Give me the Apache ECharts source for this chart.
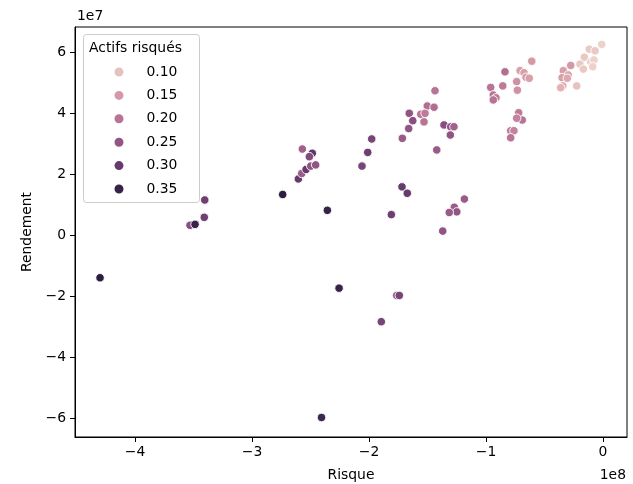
<!DOCTYPE html>
<html>
<head>
<meta charset="utf-8">
<script src="https://cdn.jsdelivr.net/npm/echarts@6/dist/echarts.min.js"></script>
<style>
  html, body { margin: 0; padding: 0; background: #fff; }
  #chart { width: 633px; height: 484px; }
</style>
</head>
<body>
<div id="chart"></div>
<script>
// Portfolio risk (x) versus return (y), coloured by the share of risky assets.
const risque = [
  -1.1e6, -11.7e6, -6.8e6, -16.0e6, -19.7e6, -10.5e6, -7.7e6, -16.8e6, -8.8e6, -22.5e6,
  -27.6e6, -33.9e6, -29.7e6, -35.0e6, -30.5e6, -34.4e6, -36.2e6,
  -60.9e6, -70.9e6, -67.5e6, -65.8e6, -63.0e6, -73.8e6, -73.2e6, -83.8e6, -85.7e6, -96.0e6, -93.8e6, -91.5e6, -93.8e6,
  -72.1e6, -69.0e6, -73.8e6, -78.9e6, -76.1e6, -78.9e6,
  -143.6e6, -150.2e6, -144.4e6, -155.8e6, -152.1e6, -153.0e6, -165.6e6, -162.6e6, -166.1e6, -171.5e6,
  -135.9e6, -130.2e6, -127.4e6, -130.5e6, -142.1e6,
  -197.7e6, -201.1e6, -206.0e6, -171.8e6, -167.3e6, -180.9e6,
  -118.5e6, -127.1e6, -125.0e6, -131.4e6, -137.0e6,
  -235.6e6, -225.6e6, -176.3e6, -174.1e6, -189.5e6, -240.6e6,
  -353.0e6, -348.7e6, -340.8e6, -340.4e6, -273.8e6,
  -260.4e6, -257.5e6, -253.8e6, -249.8e6, -245.6e6, -257.0e6, -248.5e6, -251.0e6,
  -429.9e6
];
const rendement = [
  62.5e6, 60.9e6, 60.4e6, 58.3e6, 56.0e6, 56.8e6, 57.4e6, 54.4e6, 55.2e6, 48.9e6,
  55.6e6, 53.9e6, 52.5e6, 51.6e6, 51.4e6, 48.9e6, 48.3e6,
  57.0e6, 53.9e6, 53.2e6, 51.7e6, 51.4e6, 50.3e6, 47.5e6, 53.5e6, 48.9e6, 48.4e6, 45.9e6, 45.0e6, 44.3e6,
  40.1e6, 37.7e6, 38.3e6, 34.2e6, 34.2e6, 31.9e6,
  47.3e6, 42.3e6, 41.9e6, 39.6e6, 39.9e6, 37.1e6, 39.9e6, 37.5e6, 34.9e6, 31.7e6,
  36.1e6, 35.5e6, 35.5e6, 32.8e6, 27.9e6,
  31.5e6, 27.1e6, 22.6e6, 15.8e6, 13.7e6, 6.7e6,
  11.8e6, 9.1e6, 7.6e6, 7.4e6, 1.3e6,
  8.1e6, -17.4e6, -19.8e6, -19.8e6, -28.4e6, -59.8e6,
  3.2e6, 3.5e6, 5.8e6, 11.5e6, 13.3e6,
  18.4e6, 20.2e6, 21.5e6, 22.6e6, 23.0e6, 28.2e6, 26.8e6, 25.7e6,
  -14.0e6
];
const actifs = [
  0.08, 0.09, 0.09, 0.09, 0.09, 0.08, 0.08, 0.09, 0.08, 0.10,
  0.15, 0.14, 0.13, 0.14, 0.13, 0.13, 0.12,
  0.15, 0.14, 0.14, 0.15, 0.14, 0.16, 0.16, 0.21, 0.19, 0.20, 0.20, 0.19, 0.20,
  0.19, 0.20, 0.18, 0.19, 0.18, 0.20,
  0.20, 0.21, 0.21, 0.20, 0.19, 0.20, 0.25, 0.26, 0.25, 0.24,
  0.26, 0.25, 0.23, 0.25, 0.24,
  0.28, 0.29, 0.28, 0.30, 0.30, 0.29,
  0.24, 0.24, 0.25, 0.24, 0.25,
  0.35, 0.35, 0.25, 0.28, 0.28, 0.34,
  0.26, 0.35, 0.29, 0.29, 0.36,
  0.30, 0.24, 0.30, 0.25, 0.25, 0.23, 0.31, 0.27,
  0.36
];
const legendValues = [0.10, 0.15, 0.20, 0.25, 0.30, 0.35];
const xTicks = [-4e8, -3e8, -2e8, -1e8, 0];
const yTicks = [-6e7, -4e7, -2e7, 0, 2e7, 4e7, 6e7];

const FONT = 'DejaVu Sans';
const FS = 13.9;

// Sequential cubehelix ramp (light pink -> dark purple)
function cubehelix(x) {
  const gamma = 1, start = 0, rot = 0.4, hue = 0.8;
  const xg = Math.pow(x, gamma);
  const a = hue * xg * (1 - xg) / 2;
  const phi = 2 * Math.PI * (start / 3 + rot * x);
  const c = Math.cos(phi), s = Math.sin(phi);
  const clip = v => Math.round(255 * Math.min(1, Math.max(0, v)));
  const r = xg + a * (-0.14861 * c + 1.78277 * s);
  const g = xg + a * (-0.29227 * c - 0.90649 * s);
  const b = xg + a * (1.97294 * c);
  return 'rgb(' + clip(r) + ',' + clip(g) + ',' + clip(b) + ')';
}
const hueMin = Math.min(...actifs);
const hueMax = Math.max(...actifs);
const hueColor = v => cubehelix(0.85 - 0.7 * (v - hueMin) / (hueMax - hueMin));
const rampStops = [];
for (let i = 0; i <= 40; i++) rampStops.push(cubehelix(0.85 - 0.7 * i / 40));

const minus = n => (n < 0 ? '\u2212' + (-n) : String(n));
const points = risque.map((x, i) => [x, rendement[i], actifs[i]]);

const legendSeries = legendValues.map(v => ({
  type: 'scatter',
  name: v.toFixed(2),
  data: [],
  itemStyle: { color: hueColor(v), borderColor: '#fff', borderWidth: 0.6, opacity: 1 }
}));

const chart = echarts.init(document.getElementById('chart'), null, { renderer: 'canvas' });
chart.setOption({
  animation: false,
  backgroundColor: '#fff',
  textStyle: { fontFamily: FONT },
  grid: { left: 75, top: 27, right: 6, bottom: 47, outerBoundsMode: 'none', containLabel: false,
    show: true, borderColor: '#000', borderWidth: 1, backgroundColor: 'transparent' },
  xAxis: {
    type: 'value',
    min: -4.513e8, max: 0.205e8,
    splitLine: { show: false },
    axisLine: { show: true, onZero: false, lineStyle: { color: '#000', width: 1 } },
    axisTick: { show: true, length: 5, lineStyle: { color: '#000' }, customValues: xTicks },
    axisLabel: { color: '#000', fontSize: FS, fontFamily: FONT, margin: 8, customValues: xTicks,
      formatter: v => minus(Math.round(v / 1e8)) },
    name: 'Risque', nameLocation: 'middle', nameGap: 31,
    nameTextStyle: { color: '#000', fontSize: FS, fontFamily: FONT }
  },
  yAxis: {
    type: 'value',
    min: -6.62e7, max: 6.82e7,
    splitLine: { show: false },
    axisLine: { show: true, onZero: false, lineStyle: { color: '#000', width: 1 } },
    axisTick: { show: true, length: 5, lineStyle: { color: '#000' }, customValues: yTicks },
    axisLabel: { color: '#000', fontSize: FS, fontFamily: FONT, margin: 9, customValues: yTicks,
      formatter: v => minus(Math.round(v / 1e7)) },
    name: 'Rendement', nameLocation: 'middle', nameGap: 39,
    nameTextStyle: { color: '#000', fontSize: FS, fontFamily: FONT }
  },
  visualMap: {
    type: 'continuous', show: false, seriesIndex: 0, dimension: 2,
    min: hueMin, max: hueMax,
    inRange: { color: rampStops }
  },
  legend: {
    data: legendValues.map(v => v.toFixed(2)),
    orient: 'vertical', left: 112.5, top: 65, padding: 0,
    itemWidth: 11, itemHeight: 11, itemGap: 9.4,
    icon: 'circle', selectedMode: false, z: 10,
    itemStyle: { opacity: 1 },
    textStyle: { color: '#000', fontFamily: FONT, fontSize: FS, lineHeight: 14, padding: [0, 0, 0, 17] }
  },
  graphic: [
    { type: 'rect', z: 5, shape: { x: 83.5, y: 34.5, width: 116, height: 168, r: 3 },
      style: { fill: 'rgba(255,255,255,0.8)', stroke: '#cccccc', lineWidth: 1 } },
    { type: 'text', z: 11, style: { x: 89, y: 48, text: 'Actifs risqués', font: FS + 'px "' + FONT + '"', fill: '#000', verticalAlign: 'middle' } },
    { type: 'text', z: 11, style: { x: 77, y: 16, text: '1e7', font: FS + 'px "' + FONT + '"', fill: '#000', verticalAlign: 'middle' } },
    { type: 'text', z: 11, style: { x: 626, y: 475, text: '1e8', font: FS + 'px "' + FONT + '"', fill: '#000', verticalAlign: 'middle', align: 'right' } }
  ],
  series: [
    {
      type: 'scatter',
      name: 'points',
      data: points,
      symbolSize: 8.5,
      itemStyle: { borderColor: '#fff', borderWidth: 0.9, opacity: 1 }
    }
  ].concat(legendSeries)
});
</script>
</body>
</html>
